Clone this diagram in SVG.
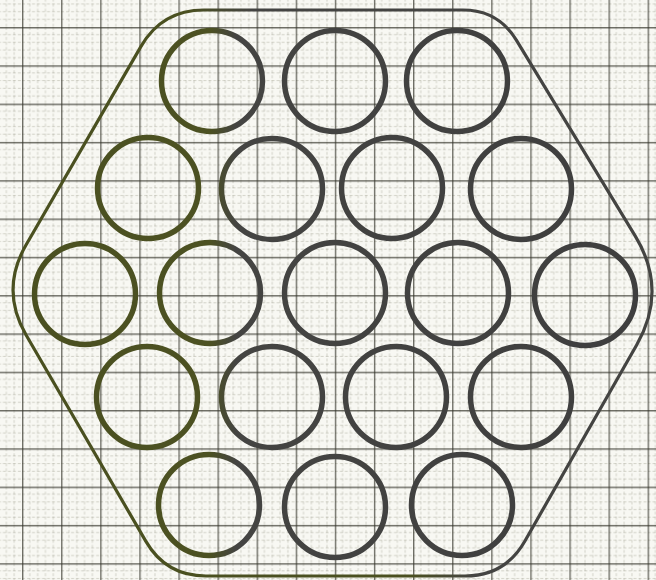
<svg xmlns="http://www.w3.org/2000/svg" width="656" height="580" viewBox="0 0 656 580">
<defs>
<pattern id="grid" patternUnits="userSpaceOnUse" x="22" y="27" width="39.1" height="38.3">
<g stroke="#6b6b52" stroke-width="0.8" stroke-opacity="0.35" stroke-dasharray="3 2">
<line x1="7.82" y1="0" x2="7.82" y2="38.3"/>
<line x1="15.64" y1="0" x2="15.64" y2="38.3"/>
<line x1="23.46" y1="0" x2="23.46" y2="38.3"/>
<line x1="31.28" y1="0" x2="31.28" y2="38.3"/>
<line x1="0" y1="7.66" x2="39.1" y2="7.66"/>
<line x1="0" y1="15.32" x2="39.1" y2="15.32"/>
<line x1="0" y1="22.98" x2="39.1" y2="22.98"/>
<line x1="0" y1="30.64" x2="39.1" y2="30.64"/>
</g>
<g stroke="#33332a" stroke-width="1.4" stroke-opacity="0.7">
<line x1="0.7" y1="0" x2="0.7" y2="38.3"/>
<line x1="0" y1="0.7" x2="39.1" y2="0.7"/>
</g>
</pattern>
<linearGradient id="cg" gradientUnits="userSpaceOnUse" x1="0" y1="0" x2="656" y2="0">
<stop offset="0" stop-color="#4a5020"/>
<stop offset="0.32" stop-color="#4c5122"/>
<stop offset="0.36" stop-color="#444442"/>
<stop offset="1" stop-color="#3e3e3e"/>
</linearGradient>
<linearGradient id="hg" gradientUnits="userSpaceOnUse" x1="192" y1="21" x2="248" y2="-1">
<stop offset="0" stop-color="#4a5020"/>
<stop offset="1" stop-color="#444442"/>
</linearGradient>
<style>
.c{fill:none;stroke:url(#cg);stroke-width:5.5}
.h{fill:none;stroke:url(#hg);stroke-width:3.2}
</style>
</defs>
<rect width="656" height="580" fill="#f8f8f3"/>
<rect width="656" height="580" fill="url(#grid)"/>
<g id="hexagon">
<path class="h" d="M204,10 L463,10 Q498,10 516.2,39.9 L635.3,236.2 Q668,290 636.8,344.7 L524.8,541.25 Q505,576 465,576 L206,576 Q166,576 145.9,541.4 L26.1,335 Q0,290 26,245 L141,46.35 Q162,10 204,10 Z"/>
</g>
<g id="circles">
<g id="c1"><circle class="c" cx="212" cy="81" r="50.5"/></g>
<g id="c2"><circle class="c" cx="335" cy="81" r="50.5"/></g>
<g id="c3"><circle class="c" cx="457" cy="81" r="50.5"/></g>
<g id="c4"><circle class="c" cx="148" cy="188" r="50.5"/></g>
<g id="c5"><circle class="c" cx="272" cy="189" r="50.5"/></g>
<g id="c6"><circle class="c" cx="392" cy="188" r="50.5"/></g>
<g id="c7"><circle class="c" cx="521" cy="189" r="50.5"/></g>
<g id="c8"><circle class="c" cx="85" cy="294" r="50.5"/></g>
<g id="c9"><circle class="c" cx="210" cy="293" r="50.5"/></g>
<g id="c10"><circle class="c" cx="335" cy="293" r="50.5"/></g>
<g id="c11"><circle class="c" cx="458" cy="293" r="50.5"/></g>
<g id="c12"><circle class="c" cx="585" cy="295" r="50.5"/></g>
<g id="c13"><circle class="c" cx="147" cy="397" r="50.5"/></g>
<g id="c14"><circle class="c" cx="272" cy="397" r="50.5"/></g>
<g id="c15"><circle class="c" cx="396" cy="397" r="50.5"/></g>
<g id="c16"><circle class="c" cx="521" cy="397" r="50.5"/></g>
<g id="c17"><circle class="c" cx="209" cy="505" r="50.5"/></g>
<g id="c18"><circle class="c" cx="335" cy="507" r="50.5"/></g>
<g id="c19"><circle class="c" cx="462" cy="505" r="50.5"/></g>
</g>
<g id="connectors"/>
</svg>
